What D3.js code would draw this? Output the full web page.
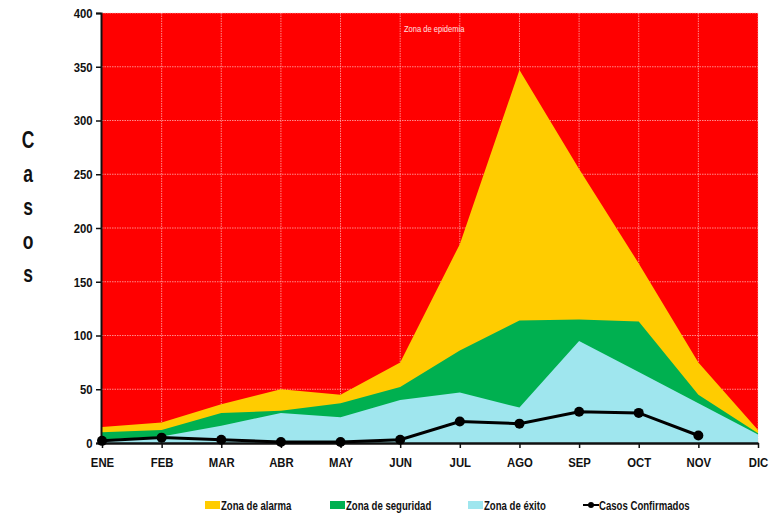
<!DOCTYPE html>
<html>
<head>
<meta charset="utf-8">
<style>
    body { margin: 0; background: white; }
    svg { display: block; font-family: 'Liberation Sans', Arial, sans-serif; }
    .tick text { font-weight: bold; font-size: 13.5px; fill: #111; }
</style>
</head>
<body>
<svg width="779" height="515"></svg>

<script src="https://d3js.org/d3.v7.min.js"></script>
<script>
    // chart values
    let months = ["ENE", "FEB", "MAR", "ABR", "MAY", "JUN", "JUL", "AGO", "SEP", "OCT", "NOV", "DIC"]
    let alarma = [15, 19, 36, 50, 45, 75, 185, 347, 255, 167, 75, 12]
    let seguridad = [10, 12, 28, 30, 37, 52, 86, 114, 115, 113, 45, 9]
    let exito = [3, 6, 16, 28, 24, 40, 47, 33, 95, 66, 37, 8]
    let confirmados = [2, 5, 3, 1, 1, 3, 20, 18, 29, 28, 7]
    let yTicks = [0, 50, 100, 150, 200, 250, 300, 350, 400]

    let svg = d3.select("svg")
    let plotLeft = 102, plotRight = 758, plotTop = 13, plotBottom = 443
    // no narrow font installed, so squeeze text horizontally
    let narrow = 0.84

    let x = d3.scalePoint()
        .domain(months)
        .range([plotLeft, plotRight])
    let y = d3.scaleLinear()
        .domain([0, 400])
        .range([plotBottom, plotTop])

    // red background = zona de epidemia
    svg.append("rect")
        .attr("x", plotLeft)
        .attr("y", plotTop)
        .attr("width", plotRight - plotLeft)
        .attr("height", plotBottom - plotTop)
        .attr("fill", "#ff0000")

    // grid
    let grid = svg.append("g")
        .attr("stroke", "#ffc4c4")
        .attr("stroke-width", 0.7)
        .attr("stroke-dasharray", "1.5,1")
    grid.selectAll(".hg")
        .data(yTicks.slice(1))
        .join("line")
        .attr("x1", plotLeft).attr("x2", plotRight)
        .attr("y1", d => y(d)).attr("y2", d => y(d))
    grid.selectAll(".vg")
        .data(months.slice(1))
        .join("line")
        .attr("x1", d => x(d)).attr("x2", d => x(d))
        .attr("y1", plotTop).attr("y2", plotBottom)

    let area = d3.area()
        .x((d, i) => x(months[i]))
        .y0(y(0))
        .y1(d => y(d))

    let zones = [
        { values: alarma, color: "#ffcc00" },
        { values: seguridad, color: "#00b050" },
        { values: exito, color: "#9fe6ee" }
    ]
    svg.append("g")
        .selectAll("path")
        .data(zones)
        .join("path")
        .attr("d", d => area(d.values))
        .attr("fill", d => d.color)

    svg.append("text")
        .attr("transform", `translate(404,32) scale(${narrow},1)`)
        .attr("fill", "#ffe0e0")
        .attr("font-size", 9)
        .text("Zona de epidemia")

    // axes
    let yAxis = svg.append("g")
        .attr("transform", `translate(${plotLeft - 1},0)`)
        .call(d3.axisLeft(y).tickValues(yTicks).tickSize(5).tickPadding(4))
    yAxis.select(".domain").attr("stroke", "#111").attr("stroke-width", 2)
    yAxis.selectAll(".tick line").attr("stroke", "#111").attr("stroke-width", 1.5)
    yAxis.selectAll(".tick text").attr("transform", `scale(${narrow},1)`).attr("x", -10)

    let xAxis = svg.append("g")
        .attr("transform", `translate(0,${plotBottom})`)
        .call(d3.axisBottom(x).tickSize(5).tickPadding(9).tickSizeOuter(0))
    xAxis.select(".domain").attr("stroke", "#111").attr("stroke-width", 2.5)
    xAxis.selectAll(".tick line").attr("stroke", "#111").attr("stroke-width", 1.5)
    xAxis.selectAll(".tick text").attr("transform", `scale(${narrow},1)`)

    // confirmed cases
    let line = d3.line()
        .x((d, i) => x(months[i]))
        .y(d => y(d))
    svg.append("path")
        .attr("d", line(confirmados))
        .attr("fill", "none")
        .attr("stroke", "black")
        .attr("stroke-width", 3)
    svg.append("g")
        .selectAll("circle")
        .data(confirmados)
        .join("circle")
        .attr("cx", (d, i) => x(months[i]))
        .attr("cy", d => y(d))
        .attr("r", 5)
        .attr("fill", "black")

    // y title, stacked letters
    svg.append("g")
        .selectAll("text")
        .data("Casos".split(""))
        .join("text")
        .attr("transform", (d, i) => `translate(28,${148 + i * 33.5}) scale(0.76,1)`)
        .attr("text-anchor", "middle")
        .attr("font-size", 23)
        .attr("font-weight", "bold")
        .attr("fill", "#111")
        .text(d => d)

    // legend
    let legend = [
        { name: "Zona de alarma", color: "#ffcc00", x: 205 },
        { name: "Zona de seguridad", color: "#00b050", x: 330 },
        { name: "Zona de éxito", color: "#9fe6ee", x: 468 },
        { name: "Casos Confirmados", color: null, x: 583 }
    ]
    let items = svg.append("g")
        .selectAll("g")
        .data(legend)
        .join("g")
        .attr("transform", d => `translate(${d.x},505)`)
    items.filter(d => d.color)
        .append("rect")
        .attr("x", 0).attr("y", -4)
        .attr("width", 15).attr("height", 8)
        .attr("fill", d => d.color)
    let lineItem = items.filter(d => !d.color)
    lineItem.append("line")
        .attr("x1", 0).attr("x2", 16)
        .attr("stroke", "black").attr("stroke-width", 2)
    lineItem.append("circle")
        .attr("cx", 8).attr("r", 3).attr("fill", "black")
    items.append("text")
        .attr("transform", `translate(16,4.5) scale(0.8,1)`)
        .attr("font-size", 12)
        .attr("font-weight", "bold")
        .attr("fill", "#111")
        .text(d => d.name)
</script>
</body>
</html>
